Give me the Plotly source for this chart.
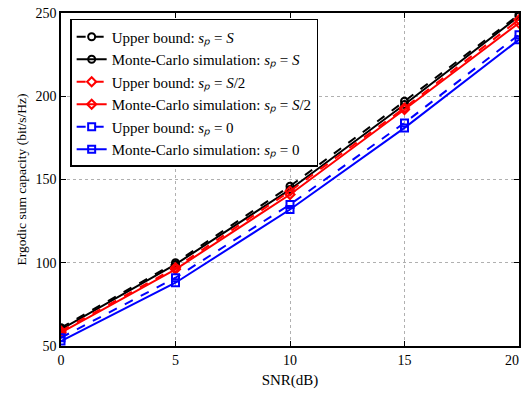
import plotly.graph_objects as go

snr = [0, 5, 10, 15, 20]
snr_labels = ["0", "5", "10", "15", "20<span style='color:rgba(255,255,255,0)'>00</span>"]
ub_S = [61, 100, 146, 197, 249]
mc_S = [60, 99, 144, 195, 248]
ub_S2 = [59, 97, 143, 193, 246]
mc_S2 = [58, 96, 141, 192, 244]
ub_0 = [55, 91, 135, 184, 237]
mc_0 = [53, 88, 132, 181, 234]

sp = "<i>s\u209a</i>"
series = [
    ("Upper bound: " + sp + " = <i>S</i>", ub_S, "black", "dash", "circle-open"),
    ("Monte-Carlo simulation: " + sp + " = <i>S</i>", mc_S, "black", "solid", "circle-open"),
    ("Upper bound: " + sp + " = <i>S</i>/2", ub_S2, "red", "dash", "diamond-open"),
    ("Monte-Carlo simulation: " + sp + " = <i>S</i>/2", mc_S2, "red", "solid", "diamond-open"),
    ("Upper bound: " + sp + " = 0", ub_0, "blue", "dash", "square-open"),
    ("Monte-Carlo simulation: " + sp + " = 0", mc_0, "blue", "solid", "square-open"),
]

fig = go.Figure()
for name, y, c, d, m in series:
    fig.add_trace(go.Scatter(
        x=snr, y=y, name=name, mode="lines+markers",
        line=dict(color=c, dash=d, width=2),
        marker=dict(symbol=m, size=7, color=c, line=dict(width=2, color=c)),
    ))

fam = '"Liberation Serif", "Times New Roman", serif'
font = dict(family=fam, size=14, color="black")
axis_common = dict(
    showline=True, linecolor="black", linewidth=1.5, mirror="ticks",
    ticks="inside", ticklen=5, tickcolor="black",
    showgrid=True, gridcolor="#b0b0b0", griddash="dot", gridwidth=1,
    zeroline=False, tickfont=font,
)
fig.update_xaxes(range=[0, 20], tickvals=snr, ticktext=snr_labels,
                 ticklabeloverflow="allow", automargin=False,
                 title=dict(text="SNR(dB)", font=dict(family=fam, size=15, color="black"), standoff=8),
                 **axis_common)
fig.update_yaxes(range=[50, 250], tickvals=[50, 100, 150, 200, 250],
                 automargin=False,
                 title=dict(text="Ergodic sum capacity (bit/s/Hz)", font=dict(family=fam, size=13.5, color="black"), standoff=6),
                 **axis_common)
fig.update_layout(
    width=522, height=393,
    margin=dict(l=61, r=3, t=13, b=47),
    plot_bgcolor="white", paper_bgcolor="white",
    font=font,
    legend=dict(x=0.02, y=0.982, xanchor="left", yanchor="top",
                bgcolor="white", bordercolor="black", borderwidth=1.5,
                font=dict(family=fam, size=15, color="black"),
                tracegroupgap=0, itemwidth=30),
)
fig.write_html("out.html")
